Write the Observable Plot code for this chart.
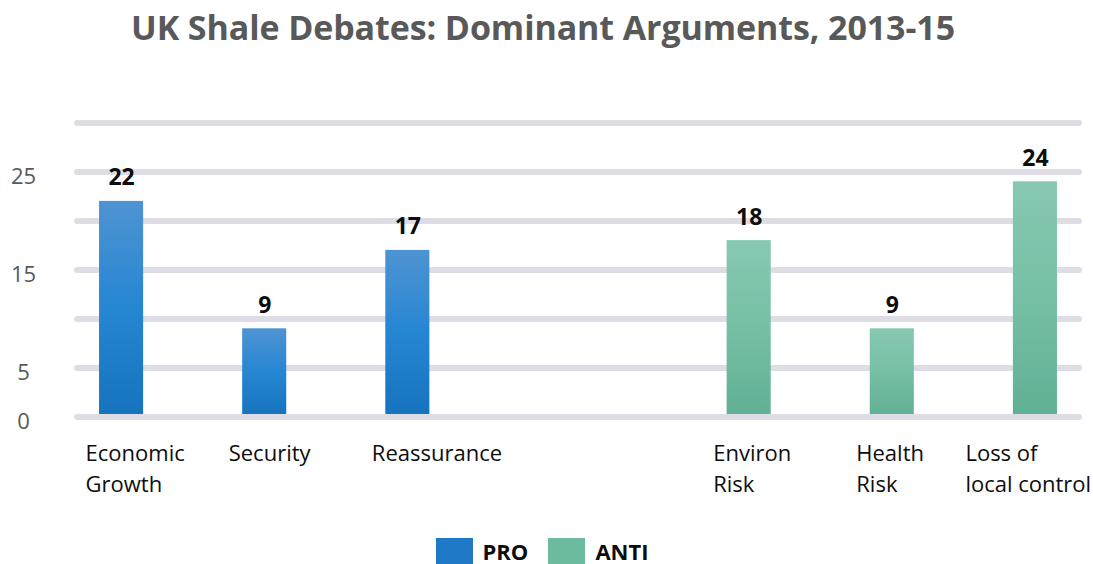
<!DOCTYPE html>
<html>
<head>
<meta charset="utf-8">
<script src="https://cdn.jsdelivr.net/npm/d3@7"></script>
<script src="https://cdn.jsdelivr.net/npm/@observablehq/plot@0.6"></script>
<style>
  html, body { margin: 0; padding: 0; background: #fff; }
  body { width: 1093px; height: 564px; overflow: hidden; font-family: "Open Sans", sans-serif; }
  #title { height: 56px; line-height: 55px; font-size: 34px; font-weight: 700; color: #595959; text-align: center; padding-right: 7px; white-space: nowrap; letter-spacing: -0.1px; }
  #chart svg { display: block; }
  #legend { display: flex; justify-content: center; align-items: flex-start; padding-top: 12px; padding-right: 9px; font-weight: 700; font-size: 22px; color: #0d0d0d; }
  #legend .sw { width: 37px; height: 26px; margin-right: 10px; }
  #legend .item { display: flex; align-items: flex-start; margin-right: 20px; line-height: 26px; }
  #legend .item:last-child { margin-right: 0; }
</style>
</head>
<body>
<div id="title">UK Shale Debates: Dominant Arguments, 2013-15</div>
<div id="chart"></div>
<div id="legend"></div>
<script>
const categories = ["Economic\nGrowth", "Security", "Reassurance", "Environ\nRisk", "Health\nRisk", "Loss of\nlocal control"];
const values = [22, 9, 17, 18, 9, 24];
const sides = ["PRO", "PRO", "PRO", "ANTI", "ANTI", "ANTI"];
const yTickLabels = [0, 5, 15, 25];
const gridValues = [5, 10, 15, 20, 25, 30];
const seriesNames = ["PRO", "ANTI"];
const legendColors = ["#1f79c6", "#6dbb9f"];

// layout constants
const groupGap = 1.385;
const halfBar = 0.154;

const data = categories.map((c, i) => ({
  label: c,
  value: values[i],
  side: sides[i],
  pos: i + (sides[i] === "ANTI" ? groupGap : 0)
}));

const ns = "http://www.w3.org/2000/svg";
const defsMark = () => {
  const defs = document.createElementNS(ns, "defs");
  defs.innerHTML = `
    <linearGradient id="gPro" x1="0" y1="0" x2="0" y2="1">
      <stop offset="0" stop-color="#4f93d3"/>
      <stop offset="0.5" stop-color="#2586d2"/>
      <stop offset="1" stop-color="#1673bd"/>
    </linearGradient>
    <linearGradient id="gAnti" x1="0" y1="0" x2="0" y2="1">
      <stop offset="0" stop-color="#88c8b2"/>
      <stop offset="0.5" stop-color="#76bfa5"/>
      <stop offset="1" stop-color="#5fb094"/>
    </linearGradient>`;
  return defs;
};

const last = data.length - 1;
const chart = Plot.plot({
  width: 1093,
  height: 470,
  marginLeft: 74,
  marginRight: 11,
  marginTop: 66.5,
  marginBottom: 109.5,
  x: { type: "linear", domain: [-0.329, 6.714], axis: null },
  y: { domain: [0, 30], axis: null },
  color: { type: "ordinal", domain: seriesNames, range: ["url(#gPro)", "url(#gAnti)"] },
  style: { fontFamily: "Open Sans, sans-serif", background: "white" },
  marks: [
    defsMark,
    Plot.ruleY(gridValues, { stroke: "#dedde5", strokeWidth: 6, strokeLinecap: "round", insetLeft: 3, insetRight: 3 }),
    Plot.rectY(data, { x1: d => d.pos - halfBar, x2: d => d.pos + halfBar, y1: 0, y2: "value", fill: "side" }),
    Plot.ruleY([0], { stroke: "#dedde5", strokeWidth: 6, strokeLinecap: "round", insetLeft: 3, insetRight: 3 }),
    Plot.text(data, { x: "pos", y: "value", text: d => String(d.value), lineAnchor: "bottom", dy: -16, fontSize: 23, fontWeight: 700, fill: "#0d0d0d" }),
    Plot.text(yTickLabels, { y: d => d, text: d => String(d), frameAnchor: "left", dx: -51, dy: 5, textAnchor: "middle", fontSize: 22, fill: "#595959" }),
    Plot.text(data.filter((d, i) => i < last), { x: "pos", y: 0, text: "label", textAnchor: "start", lineAnchor: "top", dx: -36, dy: 21.5, lineHeight: 1.41, fontSize: 22, fill: "#0d0d0d" }),
    Plot.text(data.filter((d, i) => i === last), { x: "pos", y: 0, text: "label", textAnchor: "start", lineAnchor: "top", dx: -70, dy: 21.5, lineHeight: 1.41, fontSize: 22, fill: "#0d0d0d" })
  ]
});
document.getElementById("chart").appendChild(chart);

const legend = document.getElementById("legend");
seriesNames.forEach((name, i) => {
  const item = document.createElement("div");
  item.className = "item";
  const sw = document.createElement("div");
  sw.className = "sw";
  sw.style.background = legendColors[i];
  const lab = document.createElement("span");
  lab.textContent = name;
  item.appendChild(sw);
  item.appendChild(lab);
  legend.appendChild(item);
});
</script>
</body>
</html>
